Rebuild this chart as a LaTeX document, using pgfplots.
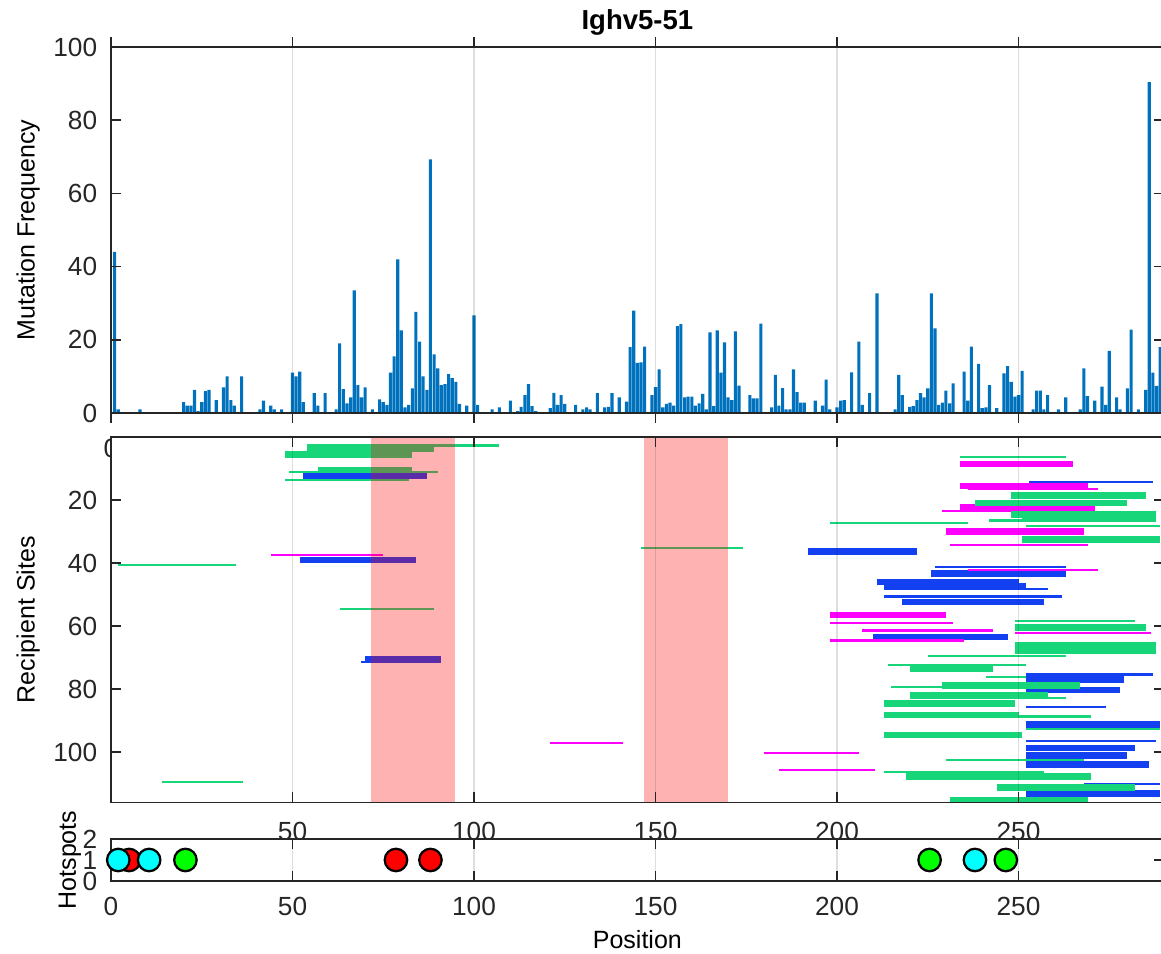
\documentclass[border=0pt]{standalone}
\usepackage{fontspec}
\setmainfont{Liberation Sans}
\usepackage{pgfplots}
\pgfplotsset{compat=1.18}

\definecolor{mblue}{HTML}{0072BD}
\definecolor{sgreen}{HTML}{17D67A}
\definecolor{sblue}{HTML}{1340F0}
\definecolor{smag}{HTML}{FF00FF}
\definecolor{axgray}{HTML}{262626}
\definecolor{hred}{RGB}{255,0,0}
\definecolor{hgreen}{RGB}{0,255,0}
\definecolor{hcyan}{RGB}{0,255,255}

% 1 px of the reference = 0.4pt
\pgfplotsset{
  mlab/.style={
    scale only axis, width=421.1pt, xmin=0, xmax=290,
    xtick={0,50,...,250}, axis on top,
    xmajorgrids, major grid style={draw=axgray, opacity=0.15, line width=0.5pt},
    axis line style={axgray, line width=0.6pt},
    every tick/.style={axgray, line width=0.6pt},
    major tick length=4pt,
    tick label style={font=\fontsize{10.5}{12}\selectfont, text=axgray},
    /pgf/number format/assume math mode=true,
    axis background/.style={fill=white},
    label style={font=\fontsize{11.5}{13}\selectfont, text=axgray},
    xticklabel style={yshift=-3pt},
    yticklabel style={xshift=-2pt},
    every axis x label/.style={at={(axis description cs:0.5,0)}, anchor=center, yshift=-23.6pt},
    every axis y label/.style={at={(axis description cs:-0.0788,0.5)}, rotate=90, anchor=center},
  },
  gthin/.style={sgreen, line width=0.9pt},
  gthick/.style={sgreen, line width=2.6pt},
  bthin/.style={sblue, line width=0.9pt},
  bthick/.style={sblue, line width=2.6pt},
  mthin/.style={smag, line width=0.9pt},
  mthick/.style={smag, line width=2.6pt},
  hot/.style={only marks, mark=*, mark size=4.5pt, mark options={draw=black, line width=0.9pt, fill=#1}},
}

\begin{document}
\begin{tikzpicture}

% ---- mutation frequency ----
\begin{axis}[mlab, at={(44.4pt,-18.8pt)}, anchor=north west, height=146.4pt,
  ymin=0, ymax=100, ytick={0,20,...,100},
  ylabel={Mutation Frequency},
  title={Ighv5-51},
  title style={at={(axis description cs:0.5,1)}, anchor=center, yshift=4pt,
    font=\bfseries\fontsize{11}{13}\selectfont, text=black},
  ybar, bar width=0.85, bar shift=0pt]
\addplot[fill=mblue, draw=none] coordinates {
(1,44) (2,1) (8,1) (20,3) (21,2) (22,2) (23,6.3) (24,0.5) (25,3) (26,6) (27,6.3)
(29,3.5) (31,7) (32,10) (33,3.5) (34,2) (36,10) (41,1) (42,3.4) (44,2) (45,1) (47,1)
(50,11) (51,10) (52,11.3) (53,3) (56,5.4) (57,2) (59,5.4) (62,1) (63,19) (64,6.5)
(65,2.6) (66,4.3) (67,33.5) (68,7.6) (69,4.3) (70,7) (72,1) (74,3.7) (75,3) (76,2.2)
(77,11) (78,15.5) (79,42) (80,22.6) (81,1.5) (82,2.2) (83,6.7) (84,27.6) (85,19.5)
(86,10) (87,6.3) (88,69.3) (89,16) (90,12.2) (91,7.6) (92,7.9) (93,10.6) (94,9.5)
(95,8.5) (96,2.5) (98,2) (100,26.7) (101,2.2) (105,1) (107,1.5) (110,3.4) (112,0.5)
(113,1.7) (114,4.9) (115,7.9) (116,1.9) (117,0.5) (121,1.3) (122,5.5) (123,2.2)
(124,4.9) (125,2.5) (128,2.2) (130,1) (131,1.5) (132,1) (134,5.4) (136,1.5) (137,1.7)
(138,5.4) (140,4.3) (142,3.1) (143,18) (144,28) (145,13.7) (146,13.8) (147,18.1)
(149,4.9) (150,7.1) (151,11.9) (152,1.5) (153,2.5) (154,2.8) (155,2) (156,23.7)
(157,24.3) (158,4.3) (159,4.5) (160,4.5) (161,2) (162,2.6) (163,5.2) (164,1) (165,22)
(166,1.9) (167,22.6) (168,11) (169,19.3) (170,4.3) (171,3.5) (172,22.3) (173,7.5)
(176,4.9) (177,4) (178,4) (179,24.4) (182,1.5) (183,10.4) (184,2) (185,6.8) (186,1)
(187,1) (188,11.9) (189,5.7) (190,2.8) (191,2.8) (194,3.4) (196,2) (197,9.1) (198,1)
(200,1.5) (201,3.4) (202,3.5) (204,11.1) (206,19.5) (207,2.2) (209,5.4) (211,32.7)
(216,1) (217,10.4) (218,4.9) (220,1.7) (221,1.9) (222,3.5) (223,5.4) (224,4.3)
(225,6.7) (226,32.7) (227,23.1) (228,2.2) (229,2.8) (230,6.1) (231,2.6) (232,8.1)
(235,11.3) (236,3.4) (237,18.1) (239,13.4) (240,1.3) (241,1.5) (242,7.6) (244,1.3)
(246,10.8) (247,12.8) (248,8.5) (249,4.5) (250,4.9) (251,11.5) (254,1) (255,6.1)
(256,6.1) (257,1) (258,4.9) (261,1) (263,4.3) (267,1) (268,12.2) (269,4.6) (271,3.4)
(273,7.2) (274,2.2) (275,17) (277,4.3) (278,1) (280,6.7) (281,22.8) (283,1) (285,6.3)
(286,90.4) (287,11) (288,7.4) (289,18)
};
\end{axis}

% ---- recipient sites ----
\begin{axis}[mlab, at={(44.4pt,-174.8pt)}, anchor=north west, height=146.2pt,
  y dir=reverse, ymin=0, ymax=116, ytick={20,40,...,100},
  xtick={50,100,...,250}, xticklabel style={yshift=-1.5pt},
  ylabel={Recipient Sites}, unbounded coords=jump]
\addplot[bthick] coordinates {
(53,12.2)(87,12.2) (nan,nan) (52,39.1)(84,39.1) (nan,nan) (70,70.6)(91,70.6) (nan,nan)
(192,36.4)(222,36.4) (nan,nan) (226,43.3)(263,43.3) (nan,nan) (211,46)(250,46) (nan,nan)
(213,47.5)(252,47.5) (nan,nan) (218,52.4)(257,52.4) (nan,nan) (210,63.5)(247,63.5) (nan,nan)
(252,77)(279,77) (nan,nan) (252,80.3)(278,80.3) (nan,nan) (252,91.2)(289,91.2) (nan,nan)
(252,98.7)(282,98.7) (nan,nan) (252,101.1)(280,101.1) (nan,nan) (252,104)(286,104) (nan,nan)
(252,113.2)(289,113.2)
};
\addplot[bthin] coordinates {
(253,14.3)(287,14.3) (nan,nan) (227,41.3)(263,41.3) (nan,nan) (220,48.2)(258,48.2) (nan,nan)
(213,50.6)(262,50.6) (nan,nan) (252,75.4)(287,75.4) (nan,nan) (252,85.8)(274,85.8) (nan,nan)
(252,96.4)(288,96.4) (nan,nan) (268,110.1)(289,110.1) (nan,nan) (69,71.4)(72,71.4)
};
\addplot[mthick] coordinates {
(234,8.5)(265,8.5) (nan,nan) (234,15.5)(269,15.5) (nan,nan) (234,22.4)(271,22.4) (nan,nan)
(230,30)(268,30) (nan,nan) (198,56.5)(230,56.5)
};
\addplot[mthin] coordinates {
(44,37.5)(75,37.5) (nan,nan) (121,97)(141,97) (nan,nan) (180,100.4)(206,100.4) (nan,nan)
(184,105.8)(210.5,105.8) (nan,nan) (198,59.1)(232,59.1) (nan,nan) (207,61.4)(243,61.4) (nan,nan)
(249,62.2)(286.5,62.2) (nan,nan) (198,64.6)(235,64.6) (nan,nan) (231,34.3)(269,34.3) (nan,nan)
(236,42.2)(272,42.2) (nan,nan) (229,23.6)(266,23.6) (nan,nan) (236,16.6)(272,16.6)
};
\addplot[gthick] coordinates {
(54,3.6)(89,3.6) (nan,nan) (48,5.5)(83,5.5) (nan,nan) (57,10.4)(83,10.4) (nan,nan)
(248,18.6)(285,18.6) (nan,nan) (238,21)(280,21) (nan,nan) (248,24.6)(288,24.6) (nan,nan)
(251,26)(288,26) (nan,nan) (251,32.6)(289,32.6) (nan,nan) (249,60.4)(285,60.4) (nan,nan)
(249,66.2)(288,66.2) (nan,nan) (249,67.8)(288,67.8) (nan,nan) (220,73.6)(243,73.6) (nan,nan)
(229,78.9)(267,78.9) (nan,nan) (220,82)(258,82) (nan,nan) (213,84.6)(249,84.6) (nan,nan)
(213,88.2)(250,88.2) (nan,nan) (213,94.5)(251,94.5) (nan,nan) (219,107.7)(270,107.7) (nan,nan)
(244,111.2)(282,111.2) (nan,nan) (231,115.2)(269,115.2)
};
\addplot[gthin] coordinates {
(54,2.7)(107,2.7) (nan,nan) (49,11.2)(90,11.2) (nan,nan) (48,13.6)(82,13.6) (nan,nan)
(2,40.6)(34.4,40.6) (nan,nan) (63,54.5)(89,54.5) (nan,nan) (14,109.4)(36.5,109.4) (nan,nan)
(146,35.2)(174,35.2) (nan,nan) (198,27.4)(236,27.4) (nan,nan) (234,6.4)(263,6.4) (nan,nan)
(242,20.2)(248,20.2) (nan,nan) (242,26.5)(280,26.5) (nan,nan) (252,28.2)(289,28.2) (nan,nan)
(249,58.3)(282,58.3) (nan,nan) (225,69.4)(263,69.4) (nan,nan) (214,72.3)(252,72.3) (nan,nan)
(241,76.2)(252,76.2) (nan,nan) (215,79.4)(252,79.4) (nan,nan) (256,82.9)(263,82.9) (nan,nan)
(244,88.7)(270,88.7) (nan,nan) (252,92.6)(289,92.6) (nan,nan) (230,102.5)(268,102.5) (nan,nan)
(213,106.4)(257,106.4)
};
% shaded regions
\addplot[fill=red, fill opacity=0.3, draw=none] coordinates {(71.6,0) (94.8,0) (94.8,116) (71.6,116)} -- cycle;
\addplot[fill=red, fill opacity=0.3, draw=none] coordinates {(146.8,0) (170,0) (170,116) (146.8,116)} -- cycle;
\end{axis}

% ---- hotspots ----
\begin{axis}[mlab, at={(44.4pt,-335.6pt)}, anchor=north west, height=16.8pt,
  ymin=0, ymax=2, ytick={0,1,2},
  xlabel={Position}, ylabel={Hotspots},
  every axis y label/.style={at={(axis description cs:-0.039,0.5)}, rotate=90, anchor=center}]
\addplot[hot=hred] coordinates {(5,1) (78.5,1) (88,1)};
\addplot[hot=hgreen] coordinates {(20.5,1) (225.5,1) (246.5,1)};
\addplot[hot=hcyan] coordinates {(2,1) (10.5,1) (238,1)};
\end{axis}

\pgfresetboundingbox
\path[use as bounding box] (0,0) rectangle (464.4pt,-381.6pt);
\end{tikzpicture}
\end{document}
